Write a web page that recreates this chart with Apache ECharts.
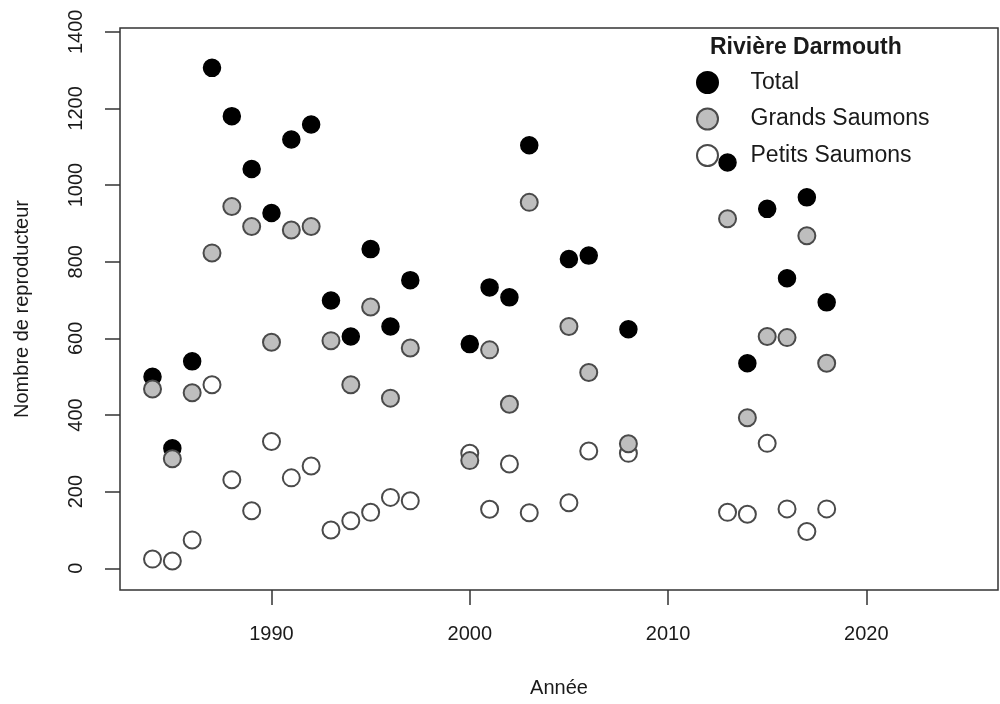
<!DOCTYPE html>
<html>
<head>
<meta charset="utf-8">
<script src="https://cdn.jsdelivr.net/npm/echarts@6/dist/echarts.min.js"></script>
<style>
html,body{margin:0;padding:0;background:#fff;}
#chart{width:1000px;height:704px;}
</style>
</head>
<body>
<div id="chart"></div>
<script>
const years = [1984,1985,1986,1987,1988,1989,1990,1991,1992,1993,1994,1995,1996,1997,2000,2001,2002,2003,2005,2006,2008,2013,2014,2015,2016,2017,2018];
const total = [500,313,540,1306,1180,1042,927,1119,1158,699,605,833,631,752,585,733,707,1104,807,816,624,1059,535,938,757,968,694];
const grands = [468,286,458,823,944,892,590,883,892,594,479,682,444,575,281,570,428,955,631,511,325,912,393,605,602,868,535];
const petits = [24,19,74,479,231,150,331,236,267,100,124,146,185,176,300,154,272,145,171,306,300,146,141,326,155,96,155];
const xTicks = [1990,2000,2010,2020];
const yTicks = [0,200,400,600,800,1000,1200,1400];
const legendTitle = 'Rivière Darmouth';
const seriesNames = ['Total','Grands Saumons','Petits Saumons'];

const FONT = "'Liberation Sans', Arial, sans-serif";
const pairs = (ys) => years.map((y, i) => [y, ys[i]]);

const chart = echarts.init(document.getElementById('chart'), null, {renderer: 'canvas'});
chart.setOption({
  animation: false,
  backgroundColor: '#ffffff',
  textStyle: {fontFamily: FONT, color: '#1a1a1a'},
  title: {
    text: legendTitle,
    left: 710, top: 36, padding: 0,
    textStyle: {fontFamily: FONT, fontSize: 23, fontWeight: 'bold', color: '#1a1a1a'}
  },
  legend: {
    data: seriesNames,
    orient: 'vertical',
    left: 696, top: 71, padding: 0,
    itemWidth: 76, itemHeight: 21, itemGap: 13.5,
    icon: 'circle',
    selectedMode: false,
    textStyle: {fontFamily: FONT, fontSize: 23, color: '#1a1a1a', lineHeight: 21, padding: [0,0,0,0]}
  },
  grid: {
    left: 120, right: 2, top: 28, bottom: 114,
    show: true, borderColor: '#333', borderWidth: 1.5, backgroundColor: 'transparent'
  },
  xAxis: {
    type: 'value',
    min: 1982.36, max: 2026.64,
    name: 'Année', nameLocation: 'middle', nameGap: 88,
    nameTextStyle: {fontFamily: FONT, fontSize: 20, color: '#1a1a1a'},
    axisLine: {show: false, onZero: false},
    splitLine: {show: false},
    axisTick: {show: true, inside: false, length: 15, customValues: xTicks, lineStyle: {color: '#333', width: 1.5}},
    axisLabel: {show: true, margin: 34, fontSize: 20, fontFamily: FONT, color: '#1a1a1a', customValues: xTicks, formatter: v => String(v)}
  },
  yAxis: {
    type: 'value',
    min: -56.7, max: 1410,
    name: 'Nombre de reproducteur', nameLocation: 'middle', nameGap: 88, nameRotate: 90,
    nameTextStyle: {fontFamily: FONT, fontSize: 20, color: '#1a1a1a'},
    axisLine: {show: false, onZero: false},
    splitLine: {show: false},
    axisTick: {show: true, inside: false, length: 15, customValues: yTicks, lineStyle: {color: '#333', width: 1.5}},
    axisLabel: {show: true, rotate: 90, margin: 34, fontSize: 20, fontFamily: FONT, color: '#1a1a1a', customValues: yTicks, formatter: v => String(v)}
  },
  series: [
    {
      name: 'Total', type: 'scatter', data: pairs(total), symbol: 'circle', symbolSize: 17,
      itemStyle: {color: '#000000', borderColor: '#000000', borderWidth: 1.5, opacity: 1}
    },
    {
      name: 'Petits Saumons', type: 'scatter', data: pairs(petits), symbol: 'circle', symbolSize: 17,
      itemStyle: {color: '#ffffff', borderColor: '#4a4a4a', borderWidth: 2, opacity: 1}
    },
    {
      name: 'Grands Saumons', type: 'scatter', data: pairs(grands), symbol: 'circle', symbolSize: 17,
      itemStyle: {color: '#bebebe', borderColor: '#4a4a4a', borderWidth: 2, opacity: 1}
    }
  ]
});
</script>
</body>
</html>
